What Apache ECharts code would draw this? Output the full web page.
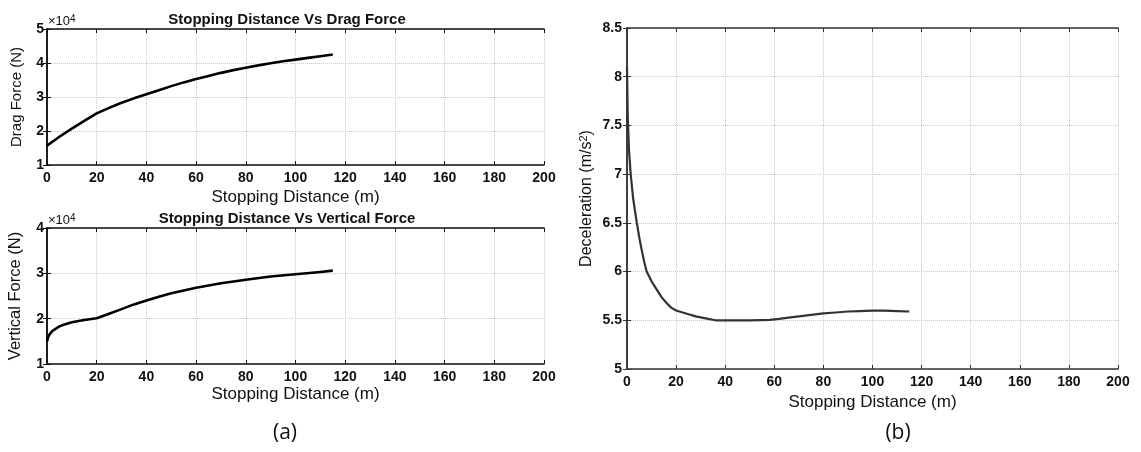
<!DOCTYPE html>
<html>
<head>
<meta charset="utf-8">
<script src="https://cdn.jsdelivr.net/npm/echarts@6/dist/echarts.min.js"></script>
<style>
  html, body { margin: 0; padding: 0; background: #fff; }
  #main { width: 1141px; height: 452px; }
</style>
</head>
<body>
<div id="main"></div>
<script>
// (a) top: stopping distance vs drag force (x10^4 N)
const distDrag = [0, 5, 10, 15, 20, 25, 30, 35, 40, 45, 50, 55, 60, 65, 70, 75, 80, 85, 90, 95, 100, 105, 110, 115];
const dragForce = [1.57, 1.83, 2.07, 2.3, 2.52, 2.68, 2.83, 2.96, 3.08, 3.2, 3.32, 3.43, 3.53, 3.62, 3.71, 3.79, 3.86, 3.93, 3.99, 4.05, 4.1, 4.15, 4.2, 4.25];

// (a) bottom: stopping distance vs vertical force (x10^4 N)
const distVert = [0, 0.5, 1, 2, 3, 5, 7, 10, 15, 20, 25, 30, 35, 40, 45, 50, 55, 60, 65, 70, 75, 80, 90, 100, 110, 115];
const vertForce = [1.5, 1.6, 1.65, 1.72, 1.76, 1.83, 1.87, 1.92, 1.97, 2.01, 2.11, 2.21, 2.315, 2.4, 2.485, 2.56, 2.62, 2.68, 2.73, 2.78, 2.82, 2.86, 2.93, 2.98, 3.03, 3.06];

// (b): stopping distance vs deceleration (m/s^2)
const distDecel = [0, 0.3, 0.8, 1.5, 2.5, 4, 5, 6, 7, 8, 10, 12, 14, 16, 18, 20, 24, 28, 32, 36, 40, 45, 50, 58, 62, 65, 70, 75, 80, 85, 90, 95, 100, 105, 110, 115];
const decel = [8.1, 7.6, 7.25, 7.0, 6.75, 6.5, 6.35, 6.22, 6.1, 6.0, 5.9, 5.82, 5.74, 5.68, 5.63, 5.6, 5.57, 5.54, 5.52, 5.5, 5.5, 5.5, 5.5, 5.505, 5.515, 5.525, 5.54, 5.555, 5.57, 5.58, 5.59, 5.595, 5.6, 5.6, 5.595, 5.59];

const xTicks = { min: 0, max: 200, interval: 20 };

function pairs(xs, ys) {
    return xs.map((x, i) => [x, ys[i]]);
}

const gridLine = { show: true, lineStyle: { color: '#c8c8c8', type: 'dotted', width: 1 } };
const tickFont = { color: '#111', fontFamily: 'Liberation Sans', fontWeight: 'bold', fontSize: 14 };
const nameFont = { color: '#111', fontFamily: 'Liberation Sans', fontSize: 17 };

// main axes with labels + mirror axes to close the box
function xAxes(gridIndex, color, nameGap) {
    return [
        Object.assign({
            type: 'value', gridIndex: gridIndex, position: 'bottom',
            name: 'Stopping Distance (m)', nameLocation: 'middle', nameGap: nameGap,
            nameTextStyle: nameFont,
            axisLine: { lineStyle: { color: color, width: 1.5 } },
            axisTick: { inside: true, length: 4, lineStyle: { color: color } },
            axisLabel: Object.assign({ margin: 6 }, tickFont),
            splitLine: gridLine
        }, xTicks),
        Object.assign({
            type: 'value', gridIndex: gridIndex, position: 'top',
            axisLine: { lineStyle: { color: color, width: 1.5 } },
            axisTick: { inside: true, length: 4, lineStyle: { color: color } },
            axisLabel: { show: false },
            splitLine: { show: false }
        }, xTicks)
    ];
}

function yAxes(gridIndex, color, name, min, max, interval, nameGap, margin, font) {
    const base = { type: 'value', gridIndex: gridIndex, min: min, max: max, interval: interval };
    return [
        Object.assign({}, base, {
            position: 'left',
            name: name, nameLocation: 'middle', nameGap: nameGap,
            nameTextStyle: font,
            axisLine: { show: true, lineStyle: { color: color, width: 1.5 } },
            axisTick: { show: true, inside: true, length: 4, lineStyle: { color: color } },
            axisLabel: Object.assign({ margin: margin }, tickFont),
            splitLine: gridLine
        }),
        Object.assign({}, base, {
            position: 'right',
            axisLine: { show: true, lineStyle: { color: color, width: 1.5 } },
            axisTick: { show: true, inside: true, length: 4, lineStyle: { color: color } },
            axisLabel: { show: false },
            splitLine: { show: false }
        })
    ];
}

const myChart = echarts.init(document.getElementById('main'));

const titleFont = { color: '#111', fontFamily: 'Liberation Sans', fontWeight: 'bold', fontSize: 15 };

const decelName = {
    color: '#111', fontFamily: 'Liberation Sans', fontSize: 16,
    rich: { sup: { fontFamily: 'Liberation Sans', fontSize: 11, verticalAlign: 'top', color: '#111', padding: [0, 0, 7, 0] } }
};

const option = {
    animation: false,
    backgroundColor: '#fff',
    title: [
        { text: 'Stopping Distance Vs Drag Force', left: 282, top: 7, textAlign: 'center', textStyle: titleFont },
        { text: 'Stopping Distance Vs Vertical Force', left: 282, top: 206, textAlign: 'center', textStyle: titleFont }
    ],
    grid: [
        { left: 47, top: 29, width: 497, height: 136 },
        { left: 47, top: 228, width: 497, height: 136 },
        { left: 627, top: 28, width: 491, height: 341 }
    ],
    xAxis: [].concat(
        xAxes(0, '#111', 24),
        xAxes(1, '#111', 22),
        xAxes(2, '#333', 22)
    ),
    yAxis: [].concat(
        yAxes(0, '#111', 'Drag Force (N)', 1, 5, 1, 23, 3,
            { color: '#111', fontFamily: 'Liberation Sans', fontSize: 15 }),
        yAxes(1, '#111', 'Vertical Force (N)', 1, 4, 1, 23, 3,
            { color: '#111', fontFamily: 'Liberation Sans', fontSize: 16.5 }),
        yAxes(2, '#333', 'Deceleration (m/s{sup|2})', 5, 8.5, 0.5, 31, 5, decelName)
    ),
    series: [
        {
            type: 'line', xAxisIndex: 0, yAxisIndex: 0,
            data: pairs(distDrag, dragForce),
            smooth: false, showSymbol: false,
            lineStyle: { color: '#000', width: 2.6, join: 'round' }
        },
        {
            type: 'line', xAxisIndex: 2, yAxisIndex: 2,
            data: pairs(distVert, vertForce),
            smooth: false, showSymbol: false,
            lineStyle: { color: '#000', width: 2.6, join: 'round' }
        },
        {
            type: 'line', xAxisIndex: 4, yAxisIndex: 4,
            data: pairs(distDecel, decel),
            smooth: false, showSymbol: false,
            lineStyle: { color: '#333', width: 2.2, join: 'round' }
        }
    ],
    graphic: [
        {
            type: 'text', left: 48, top: 14,
            style: { text: '×10{s|4}', fontFamily: 'Liberation Sans', fontSize: 13, fill: '#111',
                rich: { s: { fontSize: 10, verticalAlign: 'top', padding: [0, 0, 5, 0], fill: '#111' } } }
        },
        {
            type: 'text', left: 48, top: 213,
            style: { text: '×10{s|4}', fontFamily: 'Liberation Sans', fontSize: 13, fill: '#111',
                rich: { s: { fontSize: 10, verticalAlign: 'top', padding: [0, 0, 5, 0], fill: '#111' } } }
        },
        {
            type: 'text', x: 285, y: 433,
            style: { text: '(a)', fontFamily: 'Open Sans', fontSize: 21, fill: '#111', align: 'center', verticalAlign: 'middle' }
        },
        {
            type: 'text', x: 898, y: 433,
            style: { text: '(b)', fontFamily: 'Open Sans', fontSize: 21, fill: '#111', align: 'center', verticalAlign: 'middle' }
        }
    ]
};

option && myChart.setOption(option, true);
</script>
</body>
</html>
